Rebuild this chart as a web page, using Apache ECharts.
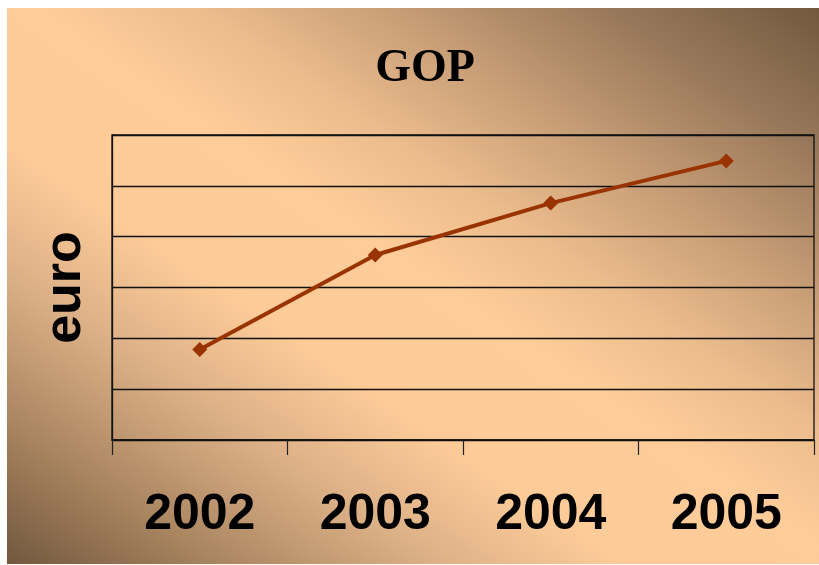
<!DOCTYPE html>
<html>
<head>
<meta charset="utf-8">
<style>html,body{margin:0;padding:0;background:#fff;}#c{width:819px;height:565px;}</style>
<script src="https://cdn.jsdelivr.net/npm/echarts@6/dist/echarts.min.js"></script>
</head>
<body>
<div id="c"></div>
<script>
var categories = ['2002', '2003', '2004', '2005'];
var gopValues = [1.78, 3.64, 4.66, 5.49];
var titleText = 'GOP';
var yName = 'euro';

var chart = echarts.init(document.getElementById('c'));
var bg = {
  type: 'linear', global: true,
  x: 154, y: 665, x2: 672, y2: -93,
  colorStops: [
    {offset: 0, color: '#72573e'},
    {offset: 0.13, color: '#a98560'},
    {offset: 0.26, color: '#dbaf86'},
    {offset: 0.38, color: '#fccb98'},
    {offset: 0.52, color: '#fdcc99'},
    {offset: 0.62, color: '#ebbc8c'},
    {offset: 0.72, color: '#cda27a'},
    {offset: 0.87, color: '#98785a'},
    {offset: 1, color: '#72573e'}
  ]
};
chart.setOption({
  animation: false,
  backgroundColor: '#ffffff',
  graphic: [{
    type: 'rect', z: -10, silent: true,
    shape: {x: 7, y: 8, width: 812, height: 556},
    style: {fill: bg}
  }],
  title: {
    text: titleText, left: 420, top: 41, textAlign: 'center',
    textStyle: {fontFamily: 'Liberation Serif', fontWeight: 'bold', fontSize: 46, color: '#000'}
  },
  grid: {
    left: 112, right: 5, top: 135, bottom: 125,
    show: true, borderColor: '#111', borderWidth: 1.3, backgroundColor: 'transparent'
  },
  xAxis: {
    type: 'category', data: categories, boundaryGap: true,
    axisLine: {lineStyle: {color: '#111', width: 1.5}},
    axisTick: {show: true, length: 15, lineStyle: {color: '#222', width: 1.2}},
    axisLabel: {margin: 50, fontFamily: 'Liberation Sans', fontWeight: 'bold', fontSize: 50, color: '#000'}
  },
  yAxis: {
    type: 'value', min: 0, max: 6, interval: 1,
    name: yName, nameLocation: 'middle', nameGap: 20, nameRotate: 90,
    nameTextStyle: {fontFamily: 'Liberation Sans', fontWeight: 'bold', fontSize: 52, color: '#000'},
    axisLine: {show: true, lineStyle: {color: '#111', width: 1.3}},
    axisTick: {show: false},
    axisLabel: {show: false},
    splitLine: {show: true, lineStyle: {color: '#111', width: 1.3}}
  },
  series: [{
    type: 'line', data: gopValues,
    symbol: 'diamond', symbolSize: 15,
    lineStyle: {color: '#993300', width: 4},
    itemStyle: {color: '#993300'}
  }]
});
</script>
</body>
</html>
